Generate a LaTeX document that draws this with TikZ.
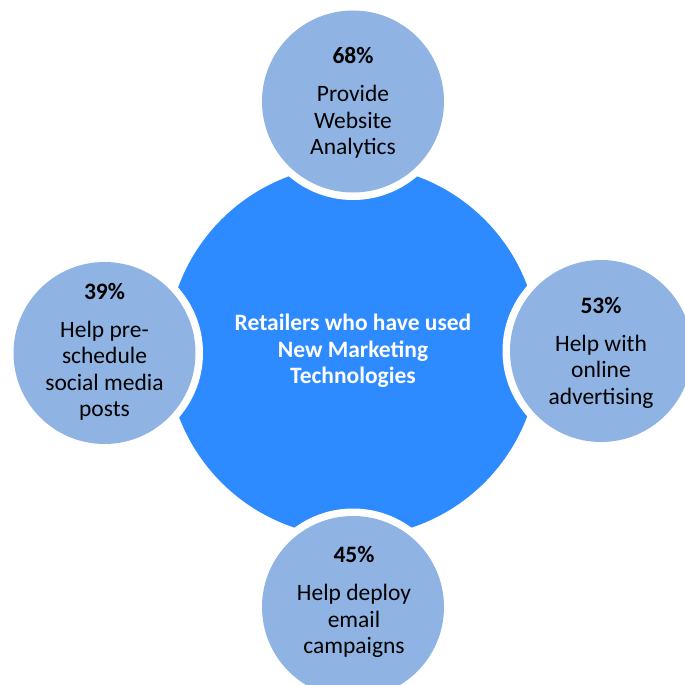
\documentclass[tikz,border=0pt]{standalone}
\usepackage{fontspec}
\setmainfont{Carlito}
\definecolor{bigblue}{RGB}{46,139,255}
\definecolor{smallblue}{RGB}{143,180,227}
\begin{document}
\begin{tikzpicture}[x=1pt,y=-1pt,
  bigc/.style={circle, fill=bigblue, minimum size=372pt, inner sep=0pt},
  ringc/.style={circle, fill=white, minimum size=197pt, inner sep=0pt},
  smallc/.style={circle, fill=smallblue, minimum size=182pt, inner sep=0pt},
  lbl/.style={align=center, font={\fontsize{23.5}{26.5}\selectfont}, text=black, inner sep=0pt},
  clbl/.style={align=center, font={\fontsize{23.5}{26.5}\selectfont\bfseries}, text=white, inner sep=0pt}]
\useasboundingbox (0,0) rectangle (685,685);
\clip (0,0) rectangle (685,685);
\fill[white] (0,0) rectangle (685,685);
% central circle
\node[bigc] (core) at (353,351) {};
\node[clbl] (coretext) at (353,351) {Retailers who have used\\New Marketing\\Technologies};
% top
\node[ringc] (topring) at (353,101.5) {};
\node[smallc] (top) at (353,101.5) {};
\node[lbl] (toptext) at (353,103) {\textbf{68\%}\\[11.5pt]Provide\\Website\\Analytics};
% right
\node[ringc] (rightring) at (601,351) {};
\node[smallc] (right) at (601,351) {};
\node[lbl] (righttext) at (601,352.5) {\textbf{53\%}\\[11.5pt]Help with\\online\\advertising};
% left
\node[ringc] (leftring) at (104.5,353) {};
\node[smallc] (left) at (104.5,353) {};
\node[lbl] (lefttext) at (104.5,352) {\textbf{39\%}\\[11.5pt]Help pre-\\schedule\\social media\\posts};
% bottom
\node[ringc] (bottomring) at (353,607) {};
\node[smallc] (bottom) at (353,607) {};
\node[lbl] (bottomtext) at (354,602) {\textbf{45\%}\\[11.5pt]Help deploy\\email\\campaigns};
\end{tikzpicture}
\end{document}
